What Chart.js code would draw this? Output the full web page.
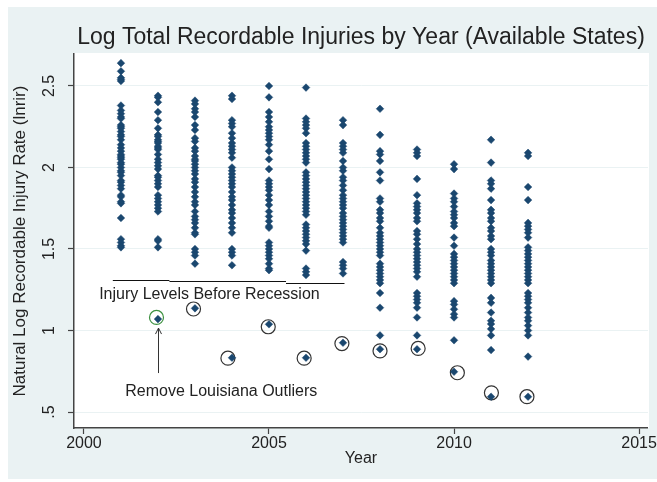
<!DOCTYPE html>
<html>
<head>
<meta charset="utf-8">
<script src="https://cdn.jsdelivr.net/npm/chart.js@4"></script>
<style>
  html, body { margin: 0; padding: 0; background: #fff; }
  #wrap { width: 657px; height: 482px; }
</style>
</head>
<body>
<div id="wrap"><canvas id="chart" width="657" height="482"></canvas></div>
<script>
// DATA (natural log of recordable injury rate, one array per year)
const years = [2001, 2002, 2003, 2004, 2005, 2006, 2007, 2008, 2009, 2010, 2011, 2012];

const y2001 = [2.64, 2.59, 2.55, 2.54, 2.53, 2.38, 2.35, 2.33, 2.31, 2.30, 2.26, 2.25, 2.24, 2.22, 2.20, 2.19, 2.17, 2.14, 2.12, 2.10, 2.08, 2.07, 2.06, 2.05, 2.03, 2.02, 2.00, 1.98, 1.97, 1.95, 1.92, 1.91, 1.89, 1.87, 1.83, 1.82, 1.79, 1.78, 1.69, 1.56, 1.54, 1.52, 1.51];
const y2002 = [2.44, 2.43, 2.40, 2.34, 2.29, 2.24, 2.20, 2.19, 2.17, 2.16, 2.15, 2.13, 2.12, 2.11, 2.08, 2.05, 2.03, 2.01, 1.99, 1.95, 1.94, 1.92, 1.90, 1.88, 1.83, 1.81, 1.79, 1.77, 1.75, 1.73, 1.56, 1.55, 1.51];
const y2003 = [2.41, 2.39, 2.36, 2.34, 2.31, 2.26, 2.23, 2.18, 2.16, 2.12, 2.10, 2.07, 2.05, 2.04, 2.02, 2.00, 1.98, 1.96, 1.93, 1.91, 1.88, 1.85, 1.82, 1.79, 1.77, 1.73, 1.70, 1.68, 1.66, 1.63, 1.60, 1.59, 1.50, 1.48, 1.46, 1.41];
const y2004 = [2.44, 2.42, 2.29, 2.27, 2.25, 2.21, 2.18, 2.15, 2.13, 2.11, 2.09, 2.06, 2.00, 1.98, 1.96, 1.94, 1.92, 1.90, 1.88, 1.85, 1.82, 1.80, 1.77, 1.74, 1.72, 1.69, 1.66, 1.63, 1.60, 1.50, 1.48, 1.46, 1.40];
const y2005 = [2.50, 2.43, 2.34, 2.31, 2.28, 2.25, 2.23, 2.21, 2.19, 2.17, 2.14, 2.10, 2.05, 1.99, 1.92, 1.90, 1.88, 1.86, 1.83, 1.80, 1.77, 1.73, 1.70, 1.67, 1.64, 1.63, 1.54, 1.52, 1.50, 1.48, 1.46, 1.44, 1.41, 1.38, 1.37];
const y2006 = [2.49, 2.30, 2.28, 2.26, 2.24, 2.21, 2.15, 2.13, 2.11, 2.09, 2.07, 2.05, 2.03, 1.97, 1.95, 1.93, 1.91, 1.89, 1.87, 1.85, 1.83, 1.81, 1.79, 1.77, 1.75, 1.73, 1.71, 1.65, 1.63, 1.61, 1.59, 1.57, 1.55, 1.53, 1.49, 1.38, 1.36, 1.34];
const y2007 = [2.29, 2.26, 2.15, 2.13, 2.11, 2.09, 2.04, 2.00, 1.98, 1.94, 1.92, 1.89, 1.86, 1.83, 1.81, 1.79, 1.77, 1.75, 1.72, 1.70, 1.68, 1.66, 1.64, 1.62, 1.60, 1.58, 1.56, 1.54, 1.42, 1.40, 1.38, 1.35];
const y2008 = [2.36, 2.20, 2.10, 2.08, 2.04, 1.97, 1.92, 1.81, 1.79, 1.74, 1.72, 1.69, 1.67, 1.63, 1.60, 1.58, 1.56, 1.54, 1.52, 1.50, 1.48, 1.46, 1.41, 1.39, 1.37, 1.35, 1.33, 1.31, 1.29, 1.23, 1.14, 0.97];
const y2009 = [2.11, 2.09, 2.07, 1.93, 1.83, 1.78, 1.76, 1.74, 1.72, 1.69, 1.67, 1.61, 1.59, 1.56, 1.53, 1.50, 1.48, 1.46, 1.44, 1.42, 1.40, 1.38, 1.36, 1.33, 1.23, 1.21, 1.19, 1.17, 1.14, 1.08, 0.97];
const y2010 = [2.02, 1.99, 1.84, 1.81, 1.79, 1.76, 1.73, 1.71, 1.69, 1.66, 1.64, 1.57, 1.52, 1.47, 1.45, 1.43, 1.41, 1.39, 1.37, 1.35, 1.33, 1.31, 1.29, 1.18, 1.16, 1.13, 1.10, 1.08, 0.94];
const y2011 = [2.17, 2.03, 1.92, 1.90, 1.87, 1.80, 1.74, 1.72, 1.69, 1.67, 1.63, 1.61, 1.58, 1.56, 1.50, 1.48, 1.46, 1.43, 1.41, 1.39, 1.37, 1.35, 1.33, 1.31, 1.29, 1.20, 1.17, 1.11, 1.06, 1.04, 1.01, 0.97, 0.88];
const y2012 = [2.09, 2.07, 1.88, 1.80, 1.66, 1.64, 1.62, 1.60, 1.57, 1.51, 1.49, 1.47, 1.45, 1.43, 1.41, 1.39, 1.37, 1.35, 1.33, 1.31, 1.29, 1.23, 1.21, 1.19, 1.17, 1.14, 1.11, 1.08, 1.06, 1.03, 1.00, 0.97, 0.84];
const byYear = [y2001, y2002, y2003, y2004, y2005, y2006, y2007, y2008, y2009, y2010, y2011, y2012];

// Louisiana values (2002-2012), circled in the original
const laYears = [2002, 2003, 2004, 2005, 2006, 2007, 2008, 2009, 2010, 2011, 2012];
const louisiana = [1.07, 1.136, 0.833, 1.038, 0.833, 0.925, 0.885, 0.885, 0.747, 0.594, 0.594];
// hand-drawn circles (slightly off the points in places)
const circleX = [2001.96, 2002.96, 2003.89, 2004.98, 2005.95, 2006.97, 2008.0, 2009.03, 2010.09, 2011.01, 2011.97];
const circleY = [1.08, 1.132, 0.83, 1.023, 0.83, 0.92, 0.875, 0.89, 0.741, 0.618, 0.594];

const xTicks = [2000, 2005, 2010, 2015];
const yTicks = [0.5, 1, 1.5, 2, 2.5];

// annotations: [x0, x1, y] in data units
const recessionLine = [[2000.78, 2002.31, 1.310], [2002.31, 2005.46, 1.302], [2005.46, 2007.04, 1.293]];
const notes = [
  { text: "Injury Levels Before Recession", x: 2003.39, y: 1.218 },
  { text: "Remove Louisiana Outliers", x: 2003.71, y: 0.623 }
];
const arrow = { x: 2001.99, from: 0.739, to: 1.015 };

const NAVY = "#1a476f";
const BG = "#eaf2f3";
const TEXT = "#222";
const FONT = "'Liberation Sans', Arial, sans-serif";

const points = [];
years.forEach((yr, i) => byYear[i].forEach(v => points.push({ x: yr, y: v })));
laYears.forEach((yr, i) => points.push({ x: yr, y: louisiana[i] }));

const circles = circleX.map((x, i) => ({ x: x, y: circleY[i] }));

// BACKGROUND + ANNOTATIONS
const stataLook = {
  id: "stataLook",
  beforeDraw(chart) {
    const { ctx, chartArea: a } = chart;
    ctx.save();
    ctx.fillStyle = "#fff";
    ctx.fillRect(0, 0, chart.width, chart.height);
    ctx.fillStyle = BG;
    ctx.fillRect(8, 7, chart.width - 8, 472);
    ctx.fillStyle = "#fff";
    ctx.fillRect(a.left, a.top - 1, a.right - a.left + 1, a.bottom - a.top + 1);

    ctx.fillStyle = TEXT;
    ctx.font = "23px " + FONT;
    ctx.textAlign = "center";
    ctx.textBaseline = "middle";
    ctx.fillText("Log Total Recordable Injuries by Year (Available States)", (a.left + a.right) / 2, 38);
    ctx.restore();
  },
  afterDatasetsDraw(chart) {
    const { ctx, scales: { x, y } } = chart;
    ctx.save();
    ctx.strokeStyle = "#111";
    ctx.lineWidth = 1;
    recessionLine.forEach(([x0, x1, v]) => {
      ctx.beginPath();
      ctx.moveTo(x.getPixelForValue(x0), Math.round(y.getPixelForValue(v)) + 0.5);
      ctx.lineTo(x.getPixelForValue(x1), Math.round(y.getPixelForValue(v)) + 0.5);
      ctx.stroke();
    });

    ctx.fillStyle = TEXT;
    ctx.font = "16px " + FONT;
    ctx.textAlign = "center";
    ctx.textBaseline = "middle";
    notes.forEach(n => ctx.fillText(n.text, x.getPixelForValue(n.x), y.getPixelForValue(n.y)));

    const ax = Math.round(x.getPixelForValue(arrow.x)) + 0.5;
    const ay0 = y.getPixelForValue(arrow.from);
    const ay1 = y.getPixelForValue(arrow.to);
    ctx.strokeStyle = "#333";
    ctx.beginPath();
    ctx.moveTo(ax, ay0);
    ctx.lineTo(ax, ay1);
    ctx.moveTo(ax - 3, ay1 + 6);
    ctx.lineTo(ax, ay1);
    ctx.lineTo(ax + 3, ay1 + 6);
    ctx.stroke();
    ctx.restore();
  }
};

const ctx = document.getElementById("chart");
new Chart(ctx, {
  type: "scatter",
  data: {
    datasets: [
      {
        label: "lnrir",
        data: points,
        pointStyle: "rectRot",
        pointRadius: 3.8,
        pointBackgroundColor: NAVY,
        pointBorderColor: NAVY,
        pointBorderWidth: 0.5
      },
      {
        label: "Louisiana",
        data: circles,
        pointStyle: "circle",
        pointRadius: 7,
        pointBackgroundColor: "rgba(0,0,0,0)",
        pointBorderColor: circleX.map((_, i) => i === 0 ? "#3d9140" : "#333"),
        pointBorderWidth: 1.2
      }
    ]
  },
  plugins: [stataLook],
  options: {
    responsive: false,
    animation: false,
    layout: { padding: { left: 0, right: 6, top: 54, bottom: 0 } },
    plugins: {
      legend: { display: false },
      tooltip: { enabled: false },
      title: { display: false }
    },
    scales: {
      x: {
        type: "linear",
        min: 1999.731,
        max: 2015.24,
        afterBuildTicks: s => { s.ticks = xTicks.map(v => ({ value: v })); },
        afterFit: s => { s.height = 54; },
        grid: { drawOnChartArea: false, color: "#444", tickLength: 6, tickWidth: 1.2 },
        border: { color: "#444", width: 1.5 },
        ticks: { color: TEXT, font: { family: FONT, size: 16 }, padding: 0, maxRotation: 0, callback: v => String(v) },
        title: { display: true, text: "Year", color: TEXT, font: { family: FONT, size: 16 }, padding: { bottom: 14 } }
      },
      y: {
        type: "linear",
        min: 0.402,
        max: 2.696,
        afterBuildTicks: s => { s.ticks = yTicks.map(v => ({ value: v })); },
        afterFit: s => { s.width = 74; },
        grid: { color: BG, lineWidth: 1, tickColor: "#444", tickLength: 6, tickWidth: 1.2 },
        border: { color: "#444", width: 1.5 },
        ticks: {
          color: TEXT,
          font: { family: FONT, size: 16 },
          padding: 7,
          minRotation: 90,
          maxRotation: 90,
          crossAlign: "center",
          callback: v => String(v).replace(/^0\./, ".")
        },
        title: { display: true, text: "Natural Log Recordable Injury Rate (lnrir)", color: TEXT, font: { family: FONT, size: 17 }, padding: { top: 10 } }
      }
    }
  }
});
</script>
</body>
</html>
